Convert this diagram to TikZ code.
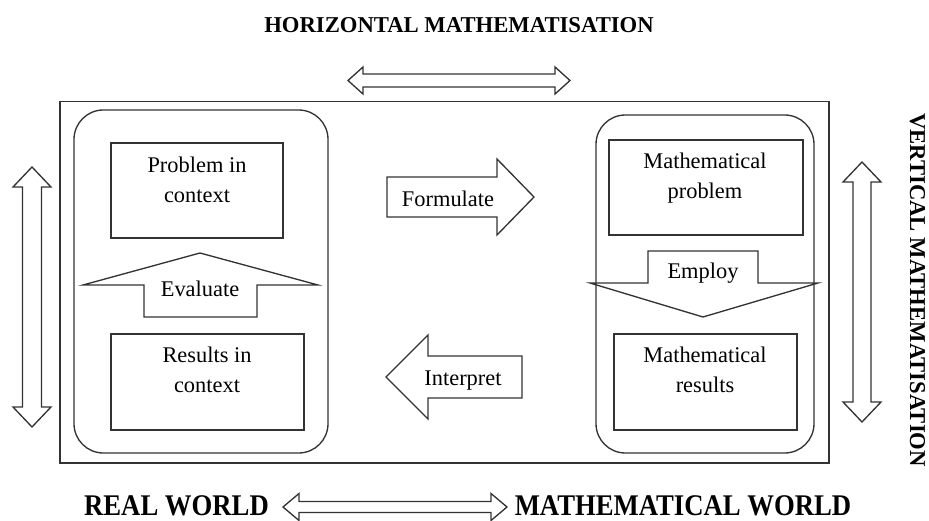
\documentclass[tikz,border=0pt]{standalone}
\usepackage{fontspec}
\setmainfont{Liberation Serif}
\begin{document}
\begin{tikzpicture}[x=0.75pt,y=-0.75pt,
  ln/.style={draw=black!80, line width=1pt, line join=miter},
  txt/.style={font=\fontsize{16.8}{20}\selectfont, inner sep=0pt, anchor=base},
  headtxt/.style={font=\bfseries\fontsize{17}{20}\selectfont, inner sep=0pt, anchor=base},
  worldtxt/.style={font=\bfseries\fontsize{22.5}{26}\selectfont, inner sep=0pt, anchor=base}]
\useasboundingbox (0,0) rectangle (929,521);

% outer frame
\draw[ln] (60,101.5) rectangle (829,463);
% rounded containers
\draw[ln, rounded corners=22pt] (74,110) rectangle (328,453);
\draw[ln, rounded corners=22pt] (596,115) rectangle (814,453);

% inner boxes
\draw[ln] (111,143) rectangle (283,238);
\draw[ln] (111,334) rectangle (304,430);
\draw[ln] (609,140) rectangle (803,235);
\draw[ln] (614,334) rectangle (797,430);

% block arrows
\draw[ln] (200,253) -- (318,285) -- (257,285) -- (257,317) -- (144,317) -- (144,285) -- (83,285) -- cycle; % Evaluate
\draw[ln] (648,251) -- (758,251) -- (758,283) -- (818,283) -- (703,317) -- (590,283) -- (648,283) -- cycle; % Employ
\draw[ln] (387,177) -- (497,177) -- (497,159) -- (534,197) -- (497,235) -- (497,217) -- (387,217) -- cycle; % Formulate
\draw[ln] (522,356) -- (428,356) -- (428,335) -- (386,377) -- (428,419) -- (428,398) -- (522,398) -- cycle; % Interpret

% hollow double arrows
\draw[ln] (348,80.5) -- (363,67) -- (363,74) -- (555,74) -- (555,67) -- (570,80.5) -- (555,94) -- (555,87) -- (363,87) -- (363,94) -- cycle;
\draw[ln] (283,507) -- (299,493.5) -- (299,501.5) -- (491,501.5) -- (491,493.5) -- (507,507) -- (491,520.5) -- (491,512.5) -- (299,512.5) -- (299,520.5) -- cycle;
\draw[ln] (32,167) -- (51,187) -- (41.5,187) -- (41.5,407) -- (51,407) -- (32,427) -- (13,407) -- (22.5,407) -- (22.5,187) -- (13,187) -- cycle;
\draw[ln] (862,162) -- (881,182) -- (871,182) -- (871,402) -- (881,402) -- (862,422) -- (843,402) -- (853,402) -- (853,182) -- (843,182) -- cycle;

% texts
\node[txt] (t1a) at (197,172) {Problem in};
\node[txt] (t1b) at (197,202) {context};
\node[txt] (ev) at (200,296) {Evaluate};
\node[txt] (t2a) at (207,362) {Results in};
\node[txt] (t2b) at (207,392) {context};
\node[txt] (fo) at (448,206) {Formulate};
\node[txt] (ip) at (463,385) {Interpret};
\node[txt] (t3a) at (705,168) {Mathematical};
\node[txt] (t3b) at (705,198) {problem};
\node[txt] (em) at (703,278) {Employ};
\node[txt] (t4a) at (705,362) {Mathematical};
\node[txt] (t4b) at (705,392) {results};

\node[headtxt] (hm) at (459,32) {HORIZONTAL MATHEMATISATION};
\node[headtxt, rotate=-90] (vm) at (910,290) {VERTICAL MATHEMATISATION};
\node[worldtxt] (rw) at (176.5,515) {\scalebox{0.89}[1]{REAL WORLD}};
\node[worldtxt] (mw) at (683,515) {\scalebox{0.89}[1]{MATHEMATICAL WORLD}};
\end{tikzpicture}
\end{document}
